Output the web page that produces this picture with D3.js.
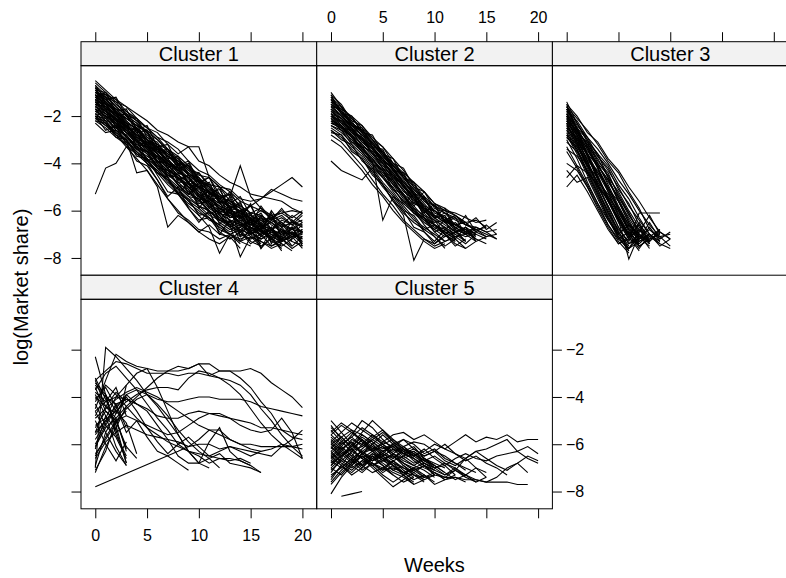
<!DOCTYPE html>
<html>
<head>
<meta charset="utf-8">
<script src="https://cdn.jsdelivr.net/npm/d3@7"></script>
<style>
  body { margin: 0; background: #fff; }
  svg { display: block; }
  text { font-family: "Liberation Sans", Arial, Helvetica, sans-serif; }
</style>
</head>
<body>
<svg id="chart" width="786" height="578"></svg>
<script>
// panel names and tick labels
const clusterNames = ["Cluster 1", "Cluster 2", "Cluster 3", "Cluster 4", "Cluster 5"];
const weekTicks = [0, 5, 10, 15, 20];
const shareTicks = [-2, -4, -6, -8];
const xTitle = "Weeks";
const yTitle = "log(Market share)";

// log market share per product, one value per week (index = week, null = missing week)
const cluster1 = [
  [-0.6,-1.0,-1.5,-1.9,-2.2,-2.7,-3.0,-3.5,-3.9,-4.2,-4.6,-5.0,-5.3,-5.7,-5.9,-6.2,-6.4,-6.3,-6.6,-6.8,-6.9],
  [-0.8,-1.2,-1.4,-1.6,-2.1,-2.5,-2.9,-3.1,-3.4,-3.9,-4.3,-4.5,-4.9,-5.2,-5.6,-5.8,-6.0,-6.3,-6.1,-6.4,-6.7],
  [-1.0,-1.1,-1.6,-2.0,-2.3,-2.8,-3.2,-3.6,-3.8,-4.3,-4.7,-5.1,-5.4,-5.6,-5.9,-6.4,-6.6,-6.8,-7.0,-6.9,-7.2],
  [-1.2,-1.7,-1.9,-2.4,-2.8,-3.0,-3.5,-3.9,-4.4,-4.6,-5.0,-5.5,-5.9,-6.1,-6.5,-6.7,-6.9,-7.1,-6.8,-7.3],
  [-1.4,-1.5,-2.0,-2.5,-2.6,-3.1,-3.4,-3.7,-4.1,-4.5,-4.9,-5.3,-5.5,-5.9,-6.0,-6.3,-6.7,-6.5,-6.9,-7.0,-7.4],
  [-1.6,-1.9,-2.3,-2.6,-3.0,-3.4,-3.9,-4.3,-4.5,-4.8,-5.3,-5.7,-6.1,-6.4,-6.6,-6.9,-7.2,-7.0,-7.4],
  [-1.8,-2.0,-2.2,-2.7,-3.2,-3.5,-3.7,-4.2,-4.7,-5.0,-5.4,-5.6,-5.9,-6.3,-6.2,-6.6,-6.8,-7.1,-7.3,-7.0,-7.1],
  [-2.1,-2.4,-2.5,-2.9,-3.3,-3.8,-4.2,-4.5,-4.8,-5.2,-5.6,-6.0,-6.3,-6.5,-6.8,-7.0,-6.8,-7.2,-7.4],
  [-2.3,-2.7,-2.6,-3.1,-3.4,-3.7,-4.0,-4.6,-5.0,-5.4,-5.8,-6.2,-6.4,-6.7,-7.1,-6.9,-7.3],
  [-0.7,-1.1,-1.3,-1.6,-1.9,-2.2,-2.6,-2.8,-3.1,-3.3,-3.9,-4.1,-4.5,-4.8,-5.0,-5.3,-5.4,-5.5,-5.6,-5.9,-6.1],
  [-1.1,-1.3,-1.7,-1.8,-2.2,-2.5,-2.7,-3.2,-3.6,-3.3,-3.3,-4.6,-5.0,-5.6,-5.8,-6.1,-6.2,-6.5,-6.3,-6.6,-6.2],
  [-5.3,-4.2,-4.0,-3.3,-3.6,-4.0,-4.4,-4.7,-5.1,-5.5,-5.8,-6.0,-6.4,-6.6,-6.3,-6.8,-7.0,-6.7,-7.2],
  [-1.5,-1.8,-2.3,-2.9,-3.3,-4.0,-4.7,-5.5,-6.1,-6.4,-6.8,-6.9,-7.2,-7.0,-7.3,-7.5],
  [-1.9,-2.2,-2.8,-3.0,-4.4,-4.3,-5.0,-6.7,-6.2,-6.5,-6.9,-6.6,-7.0,-7.1],
  [-1.3,-1.6,-2.0,-2.3,-2.5,-3.0,-3.3,-3.6,-3.9,-4.3,-4.4,-4.9,-5.0,-5.4,-4.1,-5.4,-5.9,-6.2,-6.5,-6.8,-6.9],
  [-1.0,-1.4,-1.8,-2.1,-2.4,-2.6,-3.0,-3.4,-3.7,-4.1,-4.5,-4.6,-5.0,-5.1,-5.5,-5.6,-5.5,-5.2,-4.9,-4.6,-5.0],
  [-1.7,-1.9,-2.4,-2.7,-2.9,-3.3,-3.6,-4.0,-4.3,-4.7,-5.0,-5.2,-5.6,-5.8,-6.0,-5.8,-5.5,-5.1,-5.3,-5.5,-5.6],
  [-0.9,-1.4,-1.9,-2.3,-2.7,-3.2,-3.6,-4.1,-4.5,-5.0,-5.4,-5.8,-6.1,-6.4,-6.9,-7.3,-7.5,-7.2,-7.6],
  [-1.2,-1.5,-2.1,-2.6,-3.1,-3.6,-4.2,-4.7,-5.3,-5.8,-6.2,-6.7,-7.8,-7.0,-7.4],
  [-1.6,-2.0,-2.3,-2.7,-3.1,-3.3,-3.8,-4.2,-4.6,-4.9,-5.3,-5.8,-6.3,-6.6,-7.95,-7.1,-7.3,-7.6,-7.4,-7.7],
  [-2.0,-2.1,-2.6,-3.0,-3.5,-3.9,-4.4,-4.9,-5.3,-5.7,-6.0,-6.4,-6.6,-6.9,-6.7,-7.1,-7.3,-7.5,-7.2,-7.6,-7.3],
  [-1.4,-1.7,-2.2,-2.4,-2.8,-3.2,-3.5,-3.9,-4.3,-4.8,-5.3,-5.5,-5.8,-6.0,-6.1,-6.3,-6.0,-6.2,-6.1,-6.0,-6.1],
  [-0.8,-1.2,-1.6,-2.0,-2.5,-2.9,-3.3,-3.7,-4.0,-4.4,-4.8,-5.2,-5.6,-6.0,-6.2,-6.5,-6.7,-6.3,-6.7,-6.5,-6.7],
  [-1.8,-2.1,-2.5,-2.8,-3.3,-3.6,-4.1,-4.4,-4.9,-5.3,-5.5,-6.0,-6.5,-6.8,-6.6,-7.0,-6.7,-6.9,-7.1,-7.3,-7.5],
  [-1.1,-1.6,-1.9,-2.4,-2.8,-3.3,-3.7,-4.0,-4.4,-4.6,-5.1,-5.4,-5.7,-6.1,-6.3,-6.6,-6.4,-6.8,-7.0,-6.8,-6.5],
  [-2.2,-2.5,-2.9,-3.2,-3.6,-4.0,-4.3,-4.8,-5.2,-5.6,-6.1,-6.3,-6.7,-7.0,-7.2,-7.0,-7.4],
  [-1.5,-1.6,-2.0,-2.4,-2.9,-3.2,-3.6,-4.1,-4.5,-4.8,-5.2,-5.7,-6.0,-6.2,-6.5,-6.9,-6.6,-7.0,-7.2,-7.5,-7.1],
  [-0.5,-0.9,-1.3,-1.8,-2.1,-2.5,-2.9,-3.4,-3.8,-4.2,-4.7,-5.0,-5.5,-5.9,-6.3,-6.2,-6.6,-6.8,-6.4,-6.6,-6.9],
  [-1.9,-2.3,-2.7,-3.1,-3.5,-3.9,-4.3,-4.7,-5.1,-5.6,-5.9,-6.3,-6.6,-7.0,-7.3,-7.1,-7.5],
  [-1.3,-1.8,-2.1,-2.5,-3.0,-3.4,-3.7,-4.2,-4.6,-5.0,-5.4,-5.9,-6.2,-6.7,-6.5,-6.9,-7.2,-6.9,-7.3,-7.1,-6.8],
  [-1.0,-1.3,-1.7,-2.2,-2.6,-3.0,-3.3,-3.9,-4.2,-4.6,-5.0,-5.2,-5.5,-5.9,-6.4,-6.6,-6.3,-6.5,-6.8,-7.1,-6.9],
  [-2.0,-2.4,-2.8,-3.3,-3.8,-4.3,-4.9,-5.5,-6.0,-6.5,-6.9,-7.2,-7.4,-7.1,-7.6],
  [-0.7,-1.3,-1.2,-2.0,-2.1,-2.9,-3.1,-3.8,-3.7,-4.5,-4.6,-5.3,-5.1,-5.9,-5.7,-6.4,-6.1,-6.8,-6.5,-7.0,-6.6],
  [-1.2,-1.0,-1.8,-1.7,-2.6,-2.4,-3.3,-3.2,-4.1,-3.9,-4.8,-4.6,-5.5,-5.3,-6.2,-5.8,-6.6,-6.2,-7.1,-6.7,-7.4],
  [-1.5,-2.1,-1.9,-2.6,-2.5,-3.4,-3.3,-4.2,-4.0,-4.9,-4.7,-5.6,-5.4,-6.3,-6.0,-6.9,-6.5,-7.2,-6.9,-7.5],
  [-1.8,-1.7,-2.5,-2.4,-3.3,-3.1,-4.0,-3.8,-4.7,-4.5,-5.4,-5.2,-6.1,-5.8,-6.7,-6.4,-7.1,-6.7,-7.3,-7.0,-6.8],
  [-2.0,-2.6,-2.4,-3.2,-3.0,-3.9,-3.7,-4.6,-4.4,-5.3,-5.0,-5.9,-5.6,-6.5,-6.2,-7.0,-6.6,-7.3],
  [-1.1,-1.5,-2.0,-1.9,-2.7,-2.6,-3.5,-3.4,-4.2,-4.1,-5.0,-4.8,-5.7,-5.5,-6.3,-6.1,-6.9,-6.7,-7.3,-7.1,-7.6],
  [-0.9,-1.0,-1.4,-2.0,-2.3,-2.7,-3.4,-3.5,-4.0,-4.5,-4.8,-4.6,-5.3,-5.7,-5.4,-6.2,-6.5,-6.3,-6.0,-6.3,-6.0],
  [-1.6,-1.8,-2.2,-2.9,-3.2,-3.3,-3.9,-4.5,-4.6,-5.1,-5.7,-5.6,-6.2,-6.6,-6.4,-7.0,-6.8,-7.3,-7.5,-7.2],
  [-1.3,-1.5,-1.8,-2.3,-2.9,-3.1,-3.3,-3.6,-4.2,-4.4,-4.7,-4.9,-5.4,-5.3,-5.8,-6.1,-5.9,-6.4,-6.2,-6.6,-6.4],
  [-2.1,-2.2,-2.7,-3.0,-3.7,-3.8,-4.5,-5.2,-5.3,-5.9,-6.4,-6.3,-6.9,-7.2,-6.9,-7.4,-7.1],
  [-1.7,-2.2,-2.3,-2.9,-3.3,-3.5,-4.2,-4.3,-4.9,-5.4,-5.5,-6.1,-6.0,-6.6,-6.9,-6.7,-7.1,-6.8,-7.2,-6.9,-7.3],
  [-1.0,-1.2,-1.9,-2.1,-2.4,-3.0,-3.2,-3.7,-3.9,-4.4,-4.8,-5.0,-5.6,-5.7,-6.1,-6.5,-6.3,-6.8,-6.6,-7.0,-7.2],
  [-1.4,-1.9,-2.1,-2.3,-3.0,-3.1,-3.6,-4.1,-4.2,-4.9,-5.0,-5.5,-5.8,-6.3,-6.2,-6.7,-7.0,-6.8,-7.4],
  [-0.8,-1.5,-1.7,-2.1,-2.4,-2.7,-3.2,-3.4,-4.0,-4.1,-4.6,-5.2,-5.4,-5.8,-6.0,-6.4,-6.2,-6.6,-6.9,-6.7,-6.9],
  [-1.9,-2.0,-2.6,-2.8,-3.4,-3.5,-4.1,-4.3,-4.9,-5.1,-5.8,-6.0,-6.4,-6.6,-7.0,-7.2,-7.0,-7.5,-7.3],
  [-1.2,-1.4,-1.9,-2.5,-2.7,-3.3,-3.4,-4.0,-4.3,-4.6,-5.2,-5.4,-5.9,-6.2,-6.0,-6.5,-6.8,-6.4,-6.7,-6.5,-6.6],
  [-1.5,-1.6,-2.2,-2.3,-3.1,-3.2,-3.9,-4.0,-4.8,-4.8,-5.5,-5.6,-6.2,-6.1,-6.6,-6.5,-6.9,-7.1,-6.8,-7.1,-7.0],
  [-2.2,-2.3,-2.9,-3.0,-3.6,-3.8,-4.4,-4.6,-5.3,-5.5,-6.2,-6.1,-6.8,-7.0,-6.8,-7.3],
  [-1.3,-1.6,-2.2,-2.6,-3.0,-3.5,-3.9,-4.3,-4.6,-5.0,-5.6,-5.1,-6.0,-5.4,-6.3,-5.7,-6.8,-6.1,-7.2,-6.4,-7.0],
  [-1.7,-2.0,-2.4,-2.9,-3.4,-3.8,-4.1,-4.6,-5.3,-4.8,-5.9,-5.3,-6.6,-5.9,-7.1,-6.3,-6.9,-6.0,-6.6,-6.2,-6.5],
  [-1.1,-1.4,-1.8,-2.2,-2.6,-3.1,-3.5,-3.8,-4.3,-4.0,-4.7,-5.5,-5.0,-6.1,-5.6,-6.8,-6.2,-7.4,-6.7,-7.2,-6.9],
  [-1.4,-1.8,-2.1,-2.7,-3.0,-3.4,-4.0,-4.4,-4.9,-5.3,-4.8,-5.7,-6.4,-5.9,-6.9,-6.3,-7.6,-6.8,-7.3,-6.7,-7.5],
  [-0.9,-1.3,-1.8,-2.3,-2.5,-3.0,-3.4,-3.9,-4.2,-4.8,-4.4,-5.0,-5.7,-5.2,-5.9,-6.6,-5.8,-6.4,-5.9,-6.5,-6.1],
  [-2.0,-2.3,-2.8,-3.2,-3.9,-4.1,-4.7,-5.4,-5.0,-5.9,-6.5,-6.0,-7.0,-6.4,-7.3,-6.8,-7.6,-7.1,-7.7]
];

const cluster2 = [
  [-1.0,-1.6,-2.1,-2.5,-3.0,-3.6,-4.1,-4.6,-5.1,-5.6,-6.0,-6.4,-6.7,-7.0,-6.9],
  [-1.5,-1.8,-2.3,-2.6,-3.2,-3.7,-4.1,-4.5,-5.0,-5.5,-6.0,-6.3,-6.6,-6.8,-7.1],
  [-1.7,-2.1,-2.5,-3.0,-3.4,-3.9,-4.4,-5.0,-5.5,-6.0,-6.4,-6.7,-7.0,-7.3],
  [-2.0,-2.3,-2.8,-3.2,-3.7,-4.2,-4.7,-5.3,-5.9,-6.2,-6.6,-6.9,-7.2],
  [-2.2,-2.6,-3.0,-3.5,-4.0,-4.5,-5.1,-5.6,-6.1,-6.5,-6.8,-7.1,-6.9,-7.3],
  [-1.3,-1.7,-2.0,-2.4,-2.9,-3.3,-3.8,-4.3,-4.9,-5.4,-5.8,-6.1,-6.3,-6.6,-6.8,-7.0,-7.2],
  [-1.6,-2.0,-2.4,-2.8,-3.1,-3.5,-4.0,-4.4,-4.8,-5.2,-5.7,-5.9,-6.2,-6.5,-6.4,-6.7],
  [-3.9,-4.3,-4.5,-4.7,-4.2,-4.6,-5.1,-5.6,-6.0,-6.3,-6.6,-6.9,-7.0],
  [-1.9,-2.4,-2.9,-3.4,-3.9,-6.4,-5.4,-5.7,-6.1,-6.4,-6.6,-6.9,-7.2],
  [-2.5,-2.8,-3.3,-3.7,-4.3,-4.9,-5.6,-6.2,-8.1,-7.2,-7.4,-7.0],
  [-2.1,-2.5,-2.9,-3.3,-3.8,-4.4,-4.9,-5.3,-5.7,-5.2,-5.7,-6.0,-6.2,-6.5],
  [-1.4,-1.9,-2.3,-2.7,-3.2,-3.6,-4.0,-4.5,-5.0,-5.5,-5.8,-6.0,-6.1,-6.3,-6.5,-6.4],
  [-2.8,-3.1,-3.6,-4.1,-4.7,-5.3,-5.8,-6.4,-6.8,-7.2,-7.5,-7.3],
  [-1.8,-2.2,-2.6,-3.1,-3.5,-4.1,-4.6,-5.1,-5.6,-6.1,-6.6,-7.0,-7.4,-7.6,-7.3],
  [-2.3,-2.5,-2.9,-3.4,-3.9,-4.3,-4.8,-5.4,-5.9,-6.4,-6.9,-7.3,-7.1],
  [-1.2,-1.6,-2.1,-2.6,-3.0,-3.5,-4.1,-4.6,-5.2,-5.7,-6.2,-6.5,-6.9,-7.1,-7.0,-7.2],
  [-3.0,-3.3,-3.8,-4.3,-4.9,-5.4,-6.0,-6.5,-6.9,-7.3,-7.6,-7.4],
  [-2.0,-2.2,-2.7,-3.0,-3.6,-4.0,-4.5,-4.9,-5.5,-5.9,-6.2,-6.5,-6.6,-6.9,-6.7,-6.9,-7.2],
  [-1.7,-2.3,-2.7,-3.2,-3.6,-4.2,-4.8,-5.4,-6.0,-6.6,-7.1,-7.5,-7.2,-7.6],
  [-2.4,-2.7,-3.1,-3.5,-4.1,-4.6,-5.2,-5.8,-6.3,-6.9,-7.3,-6.8,-7.1,-7.0],
  [-1.5,-2.0,-2.4,-2.8,-3.3,-3.8,-4.3,-4.7,-5.3,-5.8,-6.3,-6.8,-6.5,-6.9,-7.2,-7.4],
  [-2.6,-2.9,-3.4,-3.8,-4.4,-5.0,-5.5,-6.1,-6.5,-6.8,-6.6,-7.0,-7.3],
  [-1.1,-1.9,-2.5,-3.0,-3.4,-3.9,-4.2,-4.8,-5.3,-5.9,-6.2,-6.4,-6.6,-6.8,-7.0],
  [-2.2,-2.4,-2.8,-3.4,-3.8,-4.3,-4.9,-5.5,-6.0,-6.4,-6.7,-7.0,-7.5,-7.2],
  [-1.9,-2.1,-2.6,-2.9,-3.4,-3.8,-4.3,-4.8,-5.3,-5.9,-6.3,-6.1,-6.4,-6.6,-6.7,-6.9,-6.8],
  [-1.3,-1.9,-2.0,-2.7,-2.8,-3.6,-3.8,-4.6,-4.8,-5.6,-5.8,-6.5,-6.3,-7.0,-6.7],
  [-1.6,-1.7,-2.4,-2.5,-3.3,-3.4,-4.3,-4.4,-5.3,-5.4,-6.3,-6.2,-6.9,-6.8,-7.2],
  [-2.0,-2.5,-2.6,-3.3,-3.5,-4.2,-4.5,-5.2,-5.5,-6.2,-6.4,-7.0,-6.8,-7.3],
  [-1.8,-2.1,-2.7,-2.9,-3.6,-3.8,-4.6,-4.9,-5.7,-5.9,-6.6,-6.8,-7.1,-7.4,-7.0],
  [-2.3,-2.4,-3.1,-3.3,-4.0,-4.3,-5.1,-5.3,-6.1,-6.3,-6.9,-6.7,-7.2],
  [-1.4,-1.6,-2.3,-2.6,-3.1,-3.7,-4.2,-4.8,-5.2,-5.9,-6.0,-6.4,-6.2,-6.6,-6.8,-6.7],
  [-2.7,-2.8,-3.5,-3.8,-4.5,-4.9,-5.6,-6.0,-6.7,-6.9,-7.4,-7.1],
  [-1.9,-2.3,-2.5,-3.1,-3.4,-4.0,-4.4,-5.0,-5.3,-5.8,-6.0,-6.3,-6.6,-6.5,-6.9,-7.1],
  [-1.1,-1.5,-2.2,-2.4,-3.0,-3.3,-4.0,-4.2,-5.0,-5.2,-5.9,-6.1,-6.6,-6.9,-7.2],
  [-2.4,-2.6,-3.2,-3.6,-4.2,-4.8,-5.3,-5.9,-6.4,-6.7,-7.0,-7.3,-7.1],
  [-1.7,-2.0,-2.5,-2.8,-3.3,-3.9,-4.5,-5.0,-5.4,-6.0,-6.5,-6.4,-6.8,-7.0,-6.8,-7.1,-7.0],
  [-2.1,-2.6,-2.8,-3.4,-3.8,-4.5,-4.7,-5.4,-5.8,-6.3,-6.6,-7.0,-7.3],
  [-1.5,-1.8,-2.4,-2.6,-3.2,-3.5,-4.2,-4.6,-5.1,-5.5,-6.1,-6.3,-6.7,-7.0,-7.3,-7.1],
  [-2.6,-3.0,-3.2,-3.9,-4.3,-4.9,-5.4,-6.0,-6.2,-6.8,-7.1,-7.6],
  [-1.2,-1.8,-2.2,-2.9,-3.3,-3.8,-4.3,-4.9,-5.5,-6.0,-6.3,-6.6,-6.9,-6.7,-7.0],
  [-1.6,-2.0,-2.5,-3.0,-3.4,-4.0,-4.7,-5.1,-5.8,-5.4,-6.3,-5.9,-6.8,-6.2,-6.9,-6.6,-7.0],
  [-2.0,-2.4,-2.9,-3.5,-4.0,-4.6,-5.0,-5.7,-5.3,-6.3,-6.8,-6.4,-7.2,-6.7,-7.3],
  [-1.3,-1.8,-2.3,-2.7,-3.2,-3.6,-4.3,-4.9,-5.4,-6.1,-5.7,-6.5,-6.2,-6.6,-6.3,-6.8,-6.5]
];

const cluster3 = [
  [-1.4,-2.3,-3.0,-3.6,-4.6,-5.6,-6.5,-7.2,-7.0],
  [-1.7,-2.5,-3.3,-4.2,-5.2,-6.2,-7.0,-7.3],
  [-1.9,-2.8,-3.7,-4.6,-5.5,-6.4,-7.1,-6.8,-7.2],
  [-2.1,-3.0,-3.9,-4.9,-5.8,-6.7,-7.4,-7.0],
  [-2.3,-3.2,-4.2,-5.1,-6.0,-6.9,-7.5],
  [-2.6,-3.4,-4.4,-5.3,-6.3,-7.2,-6.9,-7.4],
  [-1.6,-2.3,-3.1,-4.0,-4.9,-5.8,-6.6,-7.0,-7.3],
  [-2.0,-2.7,-3.4,-4.2,-5.0,-5.9,-6.8,-7.1],
  [-1.5,-2.6,-3.6,-4.6,-5.6,-6.5,-7.2,-7.4],
  [-2.8,-3.6,-4.5,-5.4,-6.3,-7.0,-7.6,-7.1],
  [-3.0,-3.8,-4.8,-5.7,-6.6,-7.3,-7.8],
  [-1.8,-2.7,-3.6,-4.5,-5.5,-6.4,-8.05,-7.0,-7.3],
  [-2.2,-3.0,-3.6,-4.6,-5.5,-6.4,-7.2,-6.1,-6.1,-6.1],
  [-3.3,-4.1,-4.9,-5.7,-6.4,-7.0,-6.6,-7.1,-6.8,-7.1,-7.5],
  [-4.3,-4.8,-4.6,-5.5,-6.4,-7.1,-7.7],
  [-5.0,-4.5,-5.2,-6.0,-6.8,-7.4,-7.2],
  [-4.0,-4.3,-5.0,-5.8,-6.6,-7.2,-7.6,-6.9],
  [-2.4,-3.2,-4.0,-5.0,-5.8,-6.7,-7.4,-7.2,-6.5,-7.2],
  [-1.9,-2.9,-3.9,-4.9,-5.9,-6.9,-7.6,-7.3],
  [-2.5,-3.3,-4.1,-4.8,-5.6,-6.4,-7.0,-6.6,-7.4],
  [-2.0,-3.1,-4.1,-5.1,-6.1,-7.0,-6.6,-7.0],
  [-2.7,-3.5,-4.4,-5.3,-6.2,-7.1,-7.7],
  [-1.6,-2.6,-3.4,-4.2,-5.1,-6.0,-6.8,-7.5,-7.2,-7.0],
  [-3.5,-4.2,-5.0,-5.9,-6.7,-7.4,-7.1,-6.9],
  [-2.9,-3.4,-4.3,-5.2,-6.1,-6.8,-7.3,-6.5,-7.3,-6.9,-7.2],
  [-2.2,-2.8,-3.7,-4.7,-5.4,-6.2,-7.0,-7.6,-7.0,-7.4,-7.6],
  [-1.5,-2.0,-2.7,-3.1,-3.8,-4.3,-5.0,-5.6,-6.3,-6.9,-7.2],
  [-1.8,-2.2,-2.9,-3.4,-4.0,-4.7,-5.3,-6.0,-6.6,-7.1,-7.0],
  [-2.2,-2.6,-3.2,-3.7,-4.3,-5.0,-5.8,-6.4,-7.0,-7.3],
  [-2.5,-2.9,-3.6,-4.1,-4.8,-5.4,-6.2,-6.8,-7.4],
  [-1.7,-2.4,-2.9,-3.7,-4.2,-5.1,-5.7,-6.6,-7.1,-7.4],
  [-2.0,-2.5,-3.3,-3.8,-4.6,-5.2,-6.0,-6.7,-7.3,-6.8],
  [-2.8,-3.2,-3.9,-4.3,-5.1,-5.6,-6.5,-7.1,-7.5],
  [-1.6,-2.1,-2.6,-3.2,-3.9,-4.4,-5.2,-5.9,-6.8,-7.2,-6.9],
  [-3.1,-3.5,-4.1,-4.6,-5.4,-6.0,-6.9,-7.4,-7.0],
  [-2.3,-2.8,-3.5,-4.0,-4.5,-5.3,-6.1,-6.9,-6.2,-7.0],
  [-1.9,-2.5,-3.0,-3.9,-4.4,-5.4,-6.1,-7.0,-7.6],
  [-2.6,-3.1,-3.6,-4.4,-5.0,-5.9,-6.6,-7.3,-7.1,-6.8],
  [-4.6,-4.1,-4.4,-4.9,-5.6,-6.3,-7.0,-7.5],
  [-2.1,-2.7,-3.1,-3.6,-4.1,-4.9,-5.5,-6.3,-7.0,-7.5,-7.2],
  [-3.4,-3.7,-4.3,-5.0,-5.5,-6.3,-7.1,-7.7],
  [-2.4,-3.0,-3.3,-4.1,-4.7,-5.5,-6.4,-7.2,-6.7,-7.3],
  [-1.7,-2.6,-3.2,-4.1,-4.7,-5.6,-6.3,-7.0,-7.4],
  [-2.9,-3.3,-4.0,-4.8,-5.3,-6.1,-6.8,-7.5,-7.2],
  [-2.3,-3.1,-3.8,-4.4,-5.2,-5.9,-6.7,-7.3,-7.0,-7.3]
];

const cluster4 = [
  [-3.2,-4.1,-5.2,-6.8],
  [-3.4,-3.9,-5.6,-6.5],
  [-3.6,-4.6,-5.0,-6.2],
  [-5.5,-4.4,-3.8,-4.2],
  [-6.9,-5.5,-4.7,-4.0],
  [-4.3,-5.2,-5.7,-6.6],
  [-6.2,-4.8,-5.4,-3.5],
  [-4.8,-3.9,-4.6,-5.1,-6.4],
  [-5.0,-6.0,-6.7,-5.9],
  [-7.1,-6.3,-5.0,-4.6],
  [-3.9,-4.8,-6.1,-6.9],
  [-5.8,-5.1,-4.3,-5.3],
  [-2.3,-3.9,-5.4,-6.8],
  [-3.3,-4.4,-4.9,-6.3],
  [-6.0,-5.2,-4.5,-3.9,-4.3],
  [-4.6,-5.5,-6.3,-6.9],
  [-3.8,-4.2,-3.6,-4.8],
  [-7.2,-6.1,-5.3,-4.4],
  [-5.3,-4.6,-5.0,-6.1,-6.6],
  [-4.5,-3.3,-2.2,-2.5,-2.7,-2.8,-2.9,-2.9,-2.9,-2.8,-2.6,-2.6,-2.9,-2.9,-2.9,-2.8,-3.0,-3.4,-3.7,-4.0,-4.45],
  [-7.0,-1.9,-2.3,-2.8,-3.3,-3.9,-4.4,-5.0,-5.6,-6.3,-6.8,-7.0],
  [-5.2,-4.9,-4.0,-3.5,-3.0,-2.8,-3.6,-4.6,-5.6,-6.3,-6.8,-6.6,-7.0],
  [-6.1,-5.3,-4.9,-4.4,-4.0,-3.6,-3.2,-2.9,-2.7,-2.8,-2.6,-3.1,-2.9,-2.9,-3.2,-3.6,-4.2,-4.7,-5.4,-5.7,-5.8],
  [-5.5,-5.0,-4.6,-4.2,-3.9,-3.7,-3.6,-3.6,-3.7,-3.2,-2.9,-3.0,-3.2,-3.3,-3.5,-3.9,-4.5,-5.0,-5.6,-6.1,-6.5],
  [-4.0,-4.4,-4.7,-3.9,-3.7,-3.9,-4.1,-4.2,-4.2,-4.1,-4.0,-4.0,-4.1,-4.1,-4.1,-4.2,-4.4,-4.5,-4.6,-4.7,-4.8],
  [-4.6,-4.2,-4.0,-4.1,-4.3,-4.5,-4.8,-4.9,-4.9,-4.7,-4.6,-4.7,-4.8,-4.9,-5.0,-5.1,-5.3,-5.3,-5.4,-5.5,-5.6],
  [-7.8,null,null,null,null,null,null,null,-6.3,-6.1,-5.8,-5.4,-5.4,-5.8,-6.0,-6.0,-6.1,-6.1,-6.1,-6.1,-6.0],
  [-4.9,-4.5,-4.1,-3.8,-3.6,-3.8,-4.0,-4.3,-4.6,-4.9,-5.2,-5.4,-5.6,-5.8,-6.0,-6.2,-6.3,-6.2,-6.0,-6.1,-6.2],
  [-3.5,-4.0,-4.3,-4.1,-4.3,-4.6,-5.2,-5.8,-6.5,-6.8,-6.8,-5.9,-5.3,-6.3,-6.7,-6.9],
  [-6.5,-5.7,-5.0,-4.8,-5.0,-5.2,-5.4,-5.6,-5.5,-5.2,-4.9,-4.7,-4.7,-4.9,-5.2,-5.4,-5.5,-5.4,-4.9,-5.5,-6.6],
  [-4.2,-3.5,-3.9,-4.4,-4.9,-5.3,-5.6,-5.9,-6.1,-6.3,-6.4,-6.5,-6.6,-6.6,-6.7,-6.9,-7.2],
  [-6.6,-5.9,-5.5,-5.2,-5.4,-5.6,-5.7,-5.8,-5.9,-6.1,-6.0,-6.0,-6.2,-6.1,-6.3,-6.5,-6.3],
  [-3.7,-3.0,-2.7,-3.2,-3.7,-4.3,-4.9,-5.4,-6.0,-6.3,-6.5,-6.8,-6.6,-6.7,-6.6,-6.8],
  [-5.6,-5.0,-4.4,-4.0,-4.6,-5.3,-5.9,-6.4,-6.0,-5.7,-6.1,-6.5,-6.3,-6.1,-6.2,-6.3,-6.4,-6.5,-6.1,-5.8,-5.4],
  [-3.3,-2.9,-2.5,-2.6,-2.8,-3.0,-3.0,-3.0,-3.1,-3.0,-3.0,-3.1,-3.2,-3.5,-3.9,-4.5,-5.1,-5.6,-6.0,-6.3,-6.6],
  [-4.1,-3.6,-4.4,-5.5,-5.0,-5.7,-6.3,-6.5,-6.8,-7.1],
  [-6.4,-5.8,-5.1,-4.5,-4.1,-3.9,-4.3,-4.8,-5.4,-5.9,-6.3,-6.6,-6.4,-6.8,-6.9,-7.0,-7.2]
];

const cluster5 = [
  [-6.5,-6.1,-5.6,-5.0,-5.3,-5.8,-6.2,-6.4,-6.3,-6.7,-6.9],
  [-5.2,-5.8,-6.4,-6.9,-7.2,-7.0,-7.3],
  [-7.2,-6.6,-6.0,-5.5,-5.0,-5.4,-5.9,-6.2,-6.6],
  [-6.0,-6.4,-6.2,-6.6,-6.3,-6.1,-6.5,-6.8,-7.1,-6.9,-7.3],
  [-6.8,-6.3,-5.8,-6.0,-5.6,-5.9,-6.1,-5.8,-6.0,-6.4,-6.2,-6.6,-6.8,-7.1],
  [-5.6,-5.2,-5.5,-5.9,-6.3,-6.6,-6.5,-6.9,-7.2,-7.5],
  [-7.6,-7.1,-6.7,-6.9,-6.4,-6.6,-6.8,-7.0,-7.2],
  [-6.3,-6.8,-7.1,-6.7,-6.9,-7.3,-7.6,-7.3,-7.7],
  [-5.9,-5.5,-5.1,-5.4,-5.7,-6.0,-5.8,-6.1,-5.9,-6.0,-6.3,-6.5,-6.8,-7.0,-7.2],
  [-7.0,-6.6,-6.9,-6.4,-6.1,-6.3,-6.6,-6.2,-6.4,-6.7,-6.5,-6.8,-7.0,-7.3,-7.0,-7.4],
  [-6.6,-6.1,-6.5,-6.0,-6.3,-5.9,-5.6,-5.5,-5.8,-5.6,-5.9,-6.2,-6.4,-6.6,-6.3,-6.6,-6.9,-7.1,-6.8,-7.2],
  [-8.1,-7.4,-6.9,-7.2,-6.8,-7.1,-6.7,-7.0,-7.3,-7.5],
  [null,-8.2,-8.1,-8.0],
  [-5.8,-6.2,-5.9,-6.4,-6.7,-6.5,-6.9,-7.2,-7.1,-7.4,-7.2,-7.5,-7.4,-7.6],
  [-6.2,-5.7,-6.1,-5.6,-5.9,-6.3,-6.0,-6.4,-6.2,-6.5,-6.3,-6.0,-6.4,-6.7,-6.5,-6.8,-7.0,-7.3],
  [-6.9,-6.4,-6.8,-6.2,-5.8,-6.1,-6.4,-6.7,-6.9,-6.6,-7.0,-7.3,-7.1,-6.6,-6.3,-6.2,-6.0,-5.8,-6.3,-6.1,-6.4],
  [-7.3,-7.0,-6.6,-6.3,-6.6,-6.9,-7.2,-7.4,-7.7,-7.5,-7.3],
  [-6.4,-6.0,-5.7,-5.3,-5.6,-6.0,-6.3,-6.1,-6.5,-6.3,-6.0,-6.2,-5.9,-5.6,-5.9,-5.7,-5.8,-5.6,-5.9,-5.8,-5.8],
  [-6.1,-6.6,-6.9,-6.5,-6.8,-7.1,-7.0,-7.2,-7.3,-7.4,-7.3,-7.4,-7.4,-7.5,-7.5,-7.6,-7.6,-7.6,-7.7,-7.7],
  [-5.4,-5.9,-6.3,-6.1,-5.7,-5.4,-5.8,-6.2,-6.5,-6.8,-7.0,-6.8,-7.1,-7.4],
  [-7.5,-6.9,-6.3,-6.6,-7.0,-7.4,-7.8,-7.5,-7.2,-6.9,-7.1],
  [-6.7,-7.0,-6.6,-7.0,-6.6,-6.3,-6.1,-6.4,-6.6,-6.9,-7.2,-7.4,-7.1,-7.3,-7.5,-7.6,-7.4,-7.0,-6.8,-6.5,-6.7],
  [-5.0,-5.5,-6.0,-6.4,-6.2,-6.6,-6.9,-7.2,-7.5],
  [-6.0,-5.7,-5.4,-5.6,-5.9,-6.2,-6.0,-6.3,-6.5,-6.2,-6.6,-6.9,-6.6,-6.4,-6.6,-6.7,-6.5,-6.4,-6.3,-6.6,-6.8],
  [-7.1,-6.7,-6.3,-5.8,-6.1,-6.5,-6.8,-7.2,-7.0,-7.3,-7.7,-7.5],
  [-6.5,-6.9,-7.3,-7.0,-6.5,-6.8,-7.1,-6.9,-7.3,-7.6],
  [-5.7,-6.1,-6.5,-6.9,-6.6,-6.4,-6.7,-6.5,-6.3,-6.6,-6.9,-7.2,-7.5,-7.3,-7.6,-7.4],
  [-6.8,-6.5,-6.2,-6.6,-6.9,-6.7,-6.4,-6.1,-6.4,-6.7,-7.0],
  [-6.3,-5.9,-5.5,-5.8,-6.2,-6.0,-6.4,-6.6,-6.9,-7.1,-7.4],
  [-5.6,-6.0,-5.7,-6.1,-5.8,-5.5,-5.9,-6.3,-6.1,-6.6,-6.8,-7.0],
  [-7.0,-7.3,-6.8,-6.5,-6.9,-6.6,-7.1,-7.3,-7.0,-7.4],
  [-6.7,-6.2,-5.9,-6.3,-6.0,-6.5,-6.2,-6.6,-6.4,-6.8,-7.0,-6.9,-7.3],
  [-5.3,-5.7,-6.2,-5.8,-6.3,-6.7,-6.4,-6.8,-7.1,-6.9,-7.3],
  [-6.1,-6.5,-6.1,-5.7,-6.0,-6.4,-6.6,-6.3,-6.7,-7.0,-7.2,-7.5,-7.3],
  [-7.4,-6.9,-7.2,-6.8,-6.5,-6.9,-7.3,-7.6,-7.4],
  [-5.9,-6.3,-6.7,-6.4,-6.0,-5.6,-6.0,-6.4,-6.6,-6.9,-7.1,-7.3,-7.0,-7.4,-7.6],
  [-6.9,-6.5,-6.0,-6.4,-6.7,-6.3,-6.1,-6.5,-6.8,-6.6,-6.9,-7.2],
  [-6.4,-6.7,-7.0,-6.7,-6.4,-6.7,-6.9,-7.2,-7.5,-7.3,-7.6],
  [-5.5,-5.1,-5.4,-5.9,-6.3,-6.1,-6.5,-6.8,-7.0,-6.8,-7.1],
  [-7.7,-7.2,-6.8,-6.5,-6.8,-7.0,-6.7,-7.1,-7.4],
  [-6.0,-6.2,-6.6,-6.3,-6.7,-6.4,-6.0,-5.8,-6.2,-6.5,-6.3,-6.7,-6.9,-6.6,-7.0,-7.2],
  [-6.6,-6.3,-6.7,-7.1,-6.8,-7.2,-6.9,-7.3,-7.6]
];

const clusters = [cluster1, cluster2, cluster3, cluster4, cluster5];

// layout of the 3 x 2 lattice
const panelW = 235.7, panelH = 209.5, stripH = 24, tickLen = 9.5;
const colLeft = [81, 316.7, 552.4];
const rowTop = [65.7, 299.3];
const font = '"Liberation Sans", Arial, Helvetica, sans-serif';

const svg = d3.select("#chart");

// turn a row of weekly values into [week, value] points, skipping missing weeks
function toPoints(values) {
  return values.map((v, i) => [i, v]).filter(d => d[1] !== null);
}

function styleAxis(g) {
  g.select(".domain").remove();
  g.attr("font-size", 16).attr("font-family", font);
  g.selectAll("line").attr("stroke", "#000");
  g.selectAll("text").attr("fill", "#000");
}

clusters.forEach((series, i) => {
  const col = i % 3, row = Math.floor(i / 3);
  const left = colLeft[col], top = rowTop[row];

  const x = d3.scaleLinear().domain([-1.38, 21.38]).range([left, left + panelW]);
  const y = d3.scaleLinear().domain([-8.73, 0.13]).range([top + panelH, top]);

  const panel = svg.append("g").attr("class", "panel");

  // strip with the cluster name
  panel.append("rect")
    .attr("x", left).attr("y", top - stripH)
    .attr("width", panelW).attr("height", stripH)
    .attr("fill", "#f2f2f2").attr("stroke", "#000").attr("stroke-width", 1);
  panel.append("text")
    .attr("x", left + panelW / 2).attr("y", top - stripH / 2)
    .attr("dy", "0.36em")
    .attr("text-anchor", "middle")
    .attr("font-size", 20)
    .text(clusterNames[i]);

  // product trajectories
  const line = d3.line().x(d => x(d[0])).y(d => y(d[1]));
  panel.append("g")
    .selectAll("path")
    .data(series)
    .enter()
    .append("path")
    .attr("d", d => line(toPoints(d)))
    .attr("fill", "none")
    .attr("stroke", "#000")
    .attr("stroke-width", 1.1);

  panel.append("rect")
    .attr("x", left).attr("y", top)
    .attr("width", panelW).attr("height", panelH)
    .attr("fill", "none").attr("stroke", "#000").attr("stroke-width", 1);

  // alternating lattice axes
  if (row === 0) {
    const labelled = col === 1;
    svg.append("g")
      .attr("transform", `translate(0,${top - stripH})`)
      .call(d3.axisTop(x).tickValues(weekTicks).tickSize(tickLen).tickPadding(9)
        .tickFormat(labelled ? d3.format("d") : () => ""))
      .call(styleAxis);
  }
  if (row === 1) {
    const labelled = col === 0;
    svg.append("g")
      .attr("transform", `translate(0,${top + panelH})`)
      .call(d3.axisBottom(x).tickValues(weekTicks).tickSize(tickLen).tickPadding(11)
        .tickFormat(labelled ? d3.format("d") : () => ""))
      .call(styleAxis);
  }
  if (col === 0) {
    svg.append("g")
      .attr("transform", `translate(${left},0)`)
      .call(d3.axisLeft(y).tickValues(shareTicks).tickSize(tickLen).tickPadding(10)
        .tickFormat(row === 0 ? d3.format("d") : () => ""))
      .call(styleAxis);
  }
  const lastInRow = row === 0 ? 2 : 1;
  if (col === lastInRow) {
    svg.append("g")
      .attr("transform", `translate(${left + panelW},0)`)
      .call(d3.axisRight(y).tickValues(shareTicks).tickSize(tickLen).tickPadding(4)
        .tickFormat(row === 1 ? d3.format("d") : () => ""))
      .call(styleAxis);
  }
});

// axis titles
svg.append("text")
  .attr("x", 434.5).attr("y", 571.5)
  .attr("text-anchor", "middle")
  .attr("font-size", 20)
  .text(xTitle);

svg.append("text")
  .attr("transform", "translate(27.5,287) rotate(-90)")
  .attr("text-anchor", "middle")
  .attr("font-size", 20)
  .text(yTitle);
</script>
</body>
</html>
